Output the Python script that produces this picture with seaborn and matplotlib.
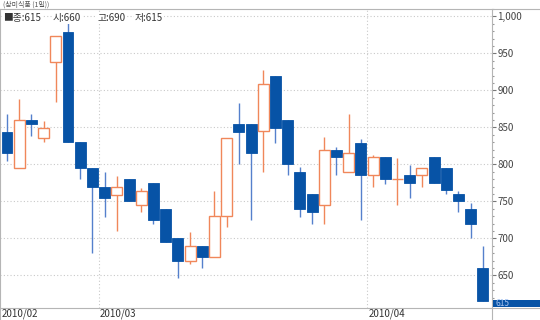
import matplotlib
matplotlib.use("Agg")
import matplotlib.pyplot as plt
import seaborn as sns
import pandas as pd
from matplotlib.lines import Line2D
from matplotlib.patches import Rectangle
from matplotlib.ticker import FuncFormatter, MultipleLocator, FixedLocator

# ---- data (daily candles, Feb-Apr 2010) ----
opens  = [844, 795, 860, 835, 939, 979, 830, 795, 770, 759,
          780, 745, 775, 740, 700, 670, 690, 675, 730, 854,
          854, 845, 920, 860, 790, 760, 745, 819, 790, 829,
          785, 810, 780, 785, 785, 810, 795, 760, 740, 660]
highs  = [868, 888, 868, 858, 974, 995, 830, 795, 789, 784,
          780, 768, 775, 740, 700, 709, 690, 764, 835, 883,
          854, 928, 920, 860, 797, 760, 837, 824, 868, 834,
          813, 810, 809, 799, 795, 810, 795, 764, 748, 690]
lows   = [805, 795, 839, 830, 884, 830, 780, 680, 729, 710,
          750, 735, 719, 695, 646, 665, 660, 675, 715, 800,
          725, 790, 829, 785, 729, 720, 720, 785, 790, 725,
          770, 774, 745, 754, 770, 775, 760, 735, 700, 615]
closes = [815, 860, 855, 849, 974, 830, 795, 770, 754, 770,
          750, 764, 725, 695, 670, 690, 675, 730, 835, 844,
          815, 909, 849, 800, 740, 735, 819, 810, 815, 785,
          810, 780, 780, 775, 795, 775, 765, 750, 720, 615]
month_labels = ["2010/02", "2010/03", "2010/04"]
month_starts = [0, 8, 30]
y_ticks = [650, 700, 750, 800, 850, 900, 950, 1000]
title_text = "(삼미식품 (1일))"
legend_items = ["■종:615", "시:660", "고:690", "저:615"]
last_price = "615"

df = pd.DataFrame({"open": opens, "high": highs, "low": lows, "close": closes})
df["idx"] = range(len(df))

UP_C = "#F0875A"
DN_C = "#0753A6"
DN_WICK = "#5580CC"
GRID_C = "#c9c9c9"
FRAME_C = "#b5b5b5"

sns.set_theme(style="white")
plt.rcParams['font.family'] = ['Noto Sans CJK KR', 'DejaVu Sans']

W, H = 540, 320
fig = plt.figure(figsize=(5.4, 3.2), dpi=100)
ax_left, ax_right, ax_top, ax_bot = 0, 492, 9, 307.5
ax = fig.add_axes([ax_left / W, 1 - ax_bot / H, (ax_right - ax_left) / W, (ax_bot - ax_top) / H])

# grid
for v in y_ticks:
    ax.axhline(v, color=GRID_C, lw=0.8, ls=(0, (1, 2)), zorder=0)
for s in month_starts[1:]:
    ax.axvline(s - 0.5, color=GRID_C, lw=0.8, ls=(0, (1, 2)), zorder=0)

# wicks
up = df["close"] >= df["open"]
ax.vlines(df.loc[up, "idx"], df.loc[up, "low"], df.loc[up, "high"], color=UP_C, lw=1.0, zorder=2)
ax.vlines(df.loc[~up, "idx"], df.loc[~up, "low"], df.loc[~up, "high"], color=DN_WICK, lw=1.0, zorder=2)

# bodies
bw = 0.9
for _, r in df.iterrows():
    lo, hi = min(r["open"], r["close"]), max(r["open"], r["close"])
    if r["close"] >= r["open"]:
        if hi - lo < 0.5:
            ax.hlines(lo, r["idx"] - bw / 2, r["idx"] + bw / 2, color=UP_C, lw=1.0, zorder=3)
        else:
            ax.bar(r["idx"], hi - lo, bottom=lo, width=bw, facecolor="white",
                   edgecolor=UP_C, linewidth=1.0, zorder=3)
    else:
        ax.bar(r["idx"], hi - lo, bottom=lo, width=bw, facecolor=DN_C,
               edgecolor=DN_C, linewidth=0.6, zorder=3)

ax.set_xlim(-0.574, 39.75)
ax.set_ylim(606.5, 1010)

# right axis ticks
ax.yaxis.tick_right()
ax.yaxis.set_major_locator(FixedLocator(y_ticks))
ax.yaxis.set_minor_locator(MultipleLocator(10))
ax.yaxis.set_major_formatter(FuncFormatter(lambda v, p: f"{int(v):,}"))
ax.tick_params(axis="y", which="major", direction="out", length=3, width=0.8,
               color="#777777", labelsize=7, labelcolor="#444444", pad=1, right=True, left=False)
ax.tick_params(axis="y", which="minor", direction="out", length=1.5, width=0.8,
               color="#999999", right=True, left=False)
ax.set_xticks([])
ax.set_xlabel("")
ax.set_ylabel("")

for sp in ax.spines.values():
    sp.set_color(FRAME_C)
    sp.set_linewidth(0.8)

# month labels
for lab, s in zip(month_labels, month_starts):
    ax.text(s - 0.5 + 0.1, (ax_bot - 314) / (ax_bot - ax_top), lab, transform=ax.get_xaxis_transform(),
            fontsize=7, color="#333333", ha="left", va="center")

# frame extensions
def fx(x): return x / W
def fy(y): return 1 - y / H
fig.add_artist(Line2D([fx(492), fx(540)], [fy(9), fy(9)], color=FRAME_C, lw=0.8))
fig.add_artist(Line2D([fx(492), fx(540)], [fy(307.5), fy(307.5)], color=FRAME_C, lw=0.8))
fig.add_artist(Line2D([fx(491.6), fx(491.6)], [fy(307.5), fy(320)], color=FRAME_C, lw=0.8))
fig.add_artist(Line2D([fx(0.4), fx(0.4)], [fy(307.5), fy(320)], color=FRAME_C, lw=0.8))

# last price box
fig.add_artist(Rectangle((fx(493), fy(307)), (540 - 493) / W, 7 / H, facecolor=DN_C,
                         edgecolor="none", transform=fig.transFigure))
fig.text(fx(496), fy(303.8), last_price, fontsize=6, color="#a8c4f0", ha="left", va="center")

# header
fig.text(fx(3), fy(4.5), title_text, fontsize=5, color="#555555", ha="left", va="center")
for txt, x in zip(legend_items, [3, 53, 97, 135]):
    fig.text(fx(x), fy(18), txt, fontsize=7, color="#333333", ha="left", va="center",
             bbox=dict(facecolor="white", edgecolor="none", pad=0.6))

fig.savefig("out.png", dpi=100)
